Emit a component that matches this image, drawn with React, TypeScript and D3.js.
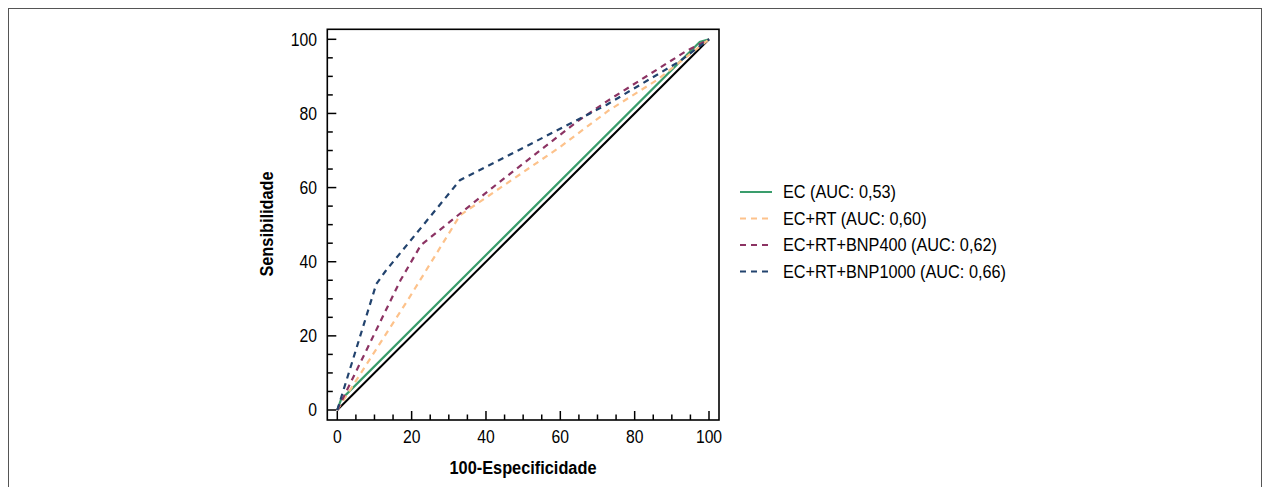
import React, { useEffect, useRef } from "react";
import * as d3 from "d3";

// ROC points: [100-Especificidade, Sensibilidade]
const diagonal = [[0, 0], [100, 100]];
const ecPoints = [[0, 0], [1, 2.8], [97.5, 99.3], [100, 100]];
const ecRtPoints = [[0, 0], [19.5, 30.5], [33, 52.5], [60, 71], [73, 80.8], [86, 89], [100, 100]];
const bnp400Points = [[0, 0], [17, 35], [22.5, 44.5], [41.5, 59.8], [64.5, 77.8], [72.4, 83.2], [94, 96.9], [100, 100]];
const bnp1000Points = [[0, 0], [10.5, 34], [13, 37.5], [33, 62], [52.3, 71.9], [72.4, 82.3], [92, 94], [100, 100]];

const seriesNames = ["EC (AUC: 0,53)", "EC+RT (AUC: 0,60)", "EC+RT+BNP400 (AUC: 0,62)", "EC+RT+BNP1000 (AUC: 0,66)"];
const seriesColors = ["#3a9d6c", "#fdc28b", "#8c3363", "#22436e"];
const seriesDashed = [false, true, true, true];
const majorTicks = [0, 20, 40, 60, 80, 100];
const minorTicks = d3.range(0, 101, 5);

const FONT = "'Liberation Sans', Arial, sans-serif";

export default function App() {
  const ref = useRef<SVGSVGElement>(null);

  useEffect(() => {
    const svg = d3.select(ref.current);
    svg.selectAll("*").remove();

    const x = d3.scaleLinear().domain([0, 100]).range([337.3, 709]);
    const y = d3.scaleLinear().domain([0, 100]).range([410, 39.3]);
    const pad = 10;
    const left = x(0) - pad;
    const right = x(100) + pad;
    const top = y(100) - pad;
    const bottom = y(0) + pad;

    // condensed text, the original looks like a narrow face
    const label = (tx: number, ty: number, txt: string, size: number, sx: number, anchor: string, bold = false, rot = 0) =>
      svg.append("text")
        .attr("transform", `translate(${tx},${ty}) rotate(${rot}) scale(${sx},1)`)
        .attr("text-anchor", anchor)
        .attr("dominant-baseline", "central")
        .style("font-family", FONT)
        .style("font-size", size + "px")
        .style("font-weight", bold ? "bold" : "normal")
        .text(txt);

    // outer box
    svg.append("rect")
      .attr("x", 8.5)
      .attr("y", 8.5)
      .attr("width", 1253)
      .attr("height", 520)
      .attr("fill", "white")
      .attr("stroke", "#555")
      .attr("stroke-width", 1);

    const line = d3.line<number[]>()
      .x(d => x(d[0]))
      .y(d => y(d[1]));

    svg.append("path")
      .datum(diagonal)
      .attr("d", line)
      .attr("fill", "none")
      .attr("stroke", "#000")
      .attr("stroke-width", 2);

    const series = [ecPoints, ecRtPoints, bnp400Points, bnp1000Points];
    series.forEach((pts, i) => {
      svg.append("path")
        .datum(pts)
        .attr("d", line)
        .attr("fill", "none")
        .attr("stroke", seriesColors[i])
        .attr("stroke-width", 2.2)
        .attr("stroke-dasharray", seriesDashed[i] ? "6,5" : null);
    });

    // frame
    svg.append("rect")
      .attr("x", left)
      .attr("y", top)
      .attr("width", right - left)
      .attr("height", bottom - top)
      .attr("fill", "none")
      .attr("stroke", "#000")
      .attr("stroke-width", 1.6);

    // ticks (inside)
    minorTicks.forEach(t => {
      const len = t % 20 === 0 ? 9 : 5.5;
      svg.append("line")
        .attr("x1", x(t)).attr("x2", x(t))
        .attr("y1", bottom).attr("y2", bottom - len)
        .attr("stroke", "#000").attr("stroke-width", 1.5);
      svg.append("line")
        .attr("x1", left).attr("x2", left + len)
        .attr("y1", y(t)).attr("y2", y(t))
        .attr("stroke", "#000").attr("stroke-width", 1.5);
    });

    majorTicks.forEach(t => {
      label(x(t), 437, String(t), 18.5, 0.85, "middle");
      label(317, y(t), String(t), 18.5, 0.85, "end");
    });

    label(267, 224, "Sensibilidade", 19, 0.86, "middle", true, -90);
    label(523, 468, "100-Especificidade", 19, 0.86, "middle", true);

    // legend
    const rowY = [192, 218.5, 245, 271.5];
    seriesNames.forEach((name, i) => {
      svg.append("line")
        .attr("x1", 740).attr("x2", 772)
        .attr("y1", rowY[i]).attr("y2", rowY[i])
        .attr("stroke", seriesColors[i])
        .attr("stroke-width", 2)
        .attr("stroke-dasharray", seriesDashed[i] ? "6,5" : null);
      label(783, rowY[i], name, 18.5, 0.88, "start");
    });
  }, []);

  return (
    <svg
      ref={ref}
      width={1264}
      height={487}
      style={{ position: "absolute", left: 0, top: 0, display: "block" }}
    />
  );
}
